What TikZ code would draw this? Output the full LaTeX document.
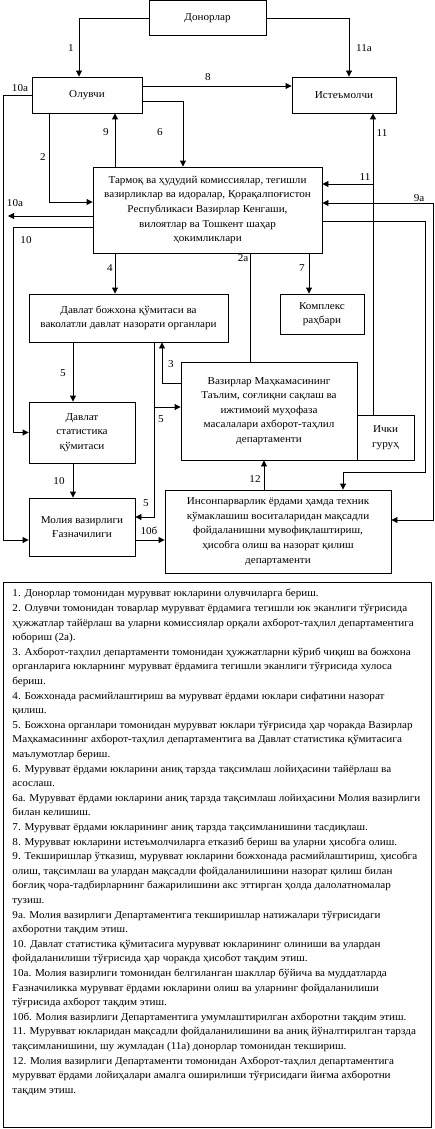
\documentclass[tikz,border=0pt]{standalone}
\usepackage{fontspec}
\setmainfont{Liberation Serif}[FakeStretch=1.06]
\usetikzlibrary{arrows.meta}

\begin{document}
\begin{tikzpicture}[
    x=1pt, y=-1pt,
    line width=0.9pt,
    >={Triangle[length=6pt,width=6pt]},
    font=\fontsize{10.5}{14.6}\selectfont,
    box/.style={draw, rectangle, inner sep=0pt, align=center},
    lbl/.style={inner sep=0pt}
]
    \useasboundingbox (0,0) rectangle (435,1129);

    % ================= boxes =================
    \node[box, minimum width=117, minimum height=35] (don) at (207.5,18) {Донорлар};
    \node[box, minimum width=110, minimum height=36] (olu) at (87,95) {Олувчи};
    \node[box, minimum width=104, minimum height=36] (ist) at (344,95) {Истеъмолчи};
    \node[box, minimum width=229, minimum height=86] (kom) at (207.5,210)
        {Тармоқ ва ҳудудий комиссиялар, тегишли\\вазирликлар ва идоралар, Қорақалпоғистон\\Республикаси Вазирлар Кенгаши,\\вилоятлар ва Тошкент шаҳар\\ҳокимликлари};
    \node[box, minimum width=199, minimum height=48] (boj) at (128.5,318)
        {Давлат божхона қўмитаси ва\\ваколатли давлат назорати органлари};
    \node[box, minimum width=84, minimum height=40] (rah) at (322,314) {Комплекс\\раҳбари};
    \node[box, minimum width=176, minimum height=98] (dep) at (269,411)
        {Вазирлар Маҳкамасининг\\Таълим, соғлиқни сақлаш ва\\ижтимоий муҳофаза\\масалалари ахборот-таҳлил\\департаменти};
    \node[box, minimum width=57, minimum height=45] (ich) at (385.5,437.5) {Ички\\гуруҳ};
    \node[box, minimum width=106, minimum height=61] (sta) at (82,432.5)
        {Давлат\\статистика\\қўмитаси};
    \node[box, minimum width=106, minimum height=58] (mol) at (82,527)
        {Молия вазирлиги\\Ғазначилиги};
    \node[box, minimum width=226, minimum height=83] (ins) at (278,531.5)
        {Инсонпарварлик ёрдами ҳамда техник\\кўмаклашиш воситаларидан мақсадли\\фойдаланишни мувофиқлаштириш,\\ҳисобга олиш ва назорат қилиш\\департаменти};

    % ================= connectors =================
    \draw[->] (don.west) -| ([xshift=-8pt]olu.north);
    \draw[->] (don.east) -| ([xshift=5pt]ist.north);
    \draw[->] ([yshift=9pt]olu.east) -- ([yshift=9pt]ist.west);
    \draw[->] (olu.west) -- (3,95) |- ([yshift=-13pt]mol.west);
    \draw[->] ([xshift=-38pt]olu.south) |- ([yshift=8pt]kom.west);
    \draw[->] ([xshift=-92.5pt]kom.north) -- ([xshift=-92.5pt]kom.north |- olu.south);
    \draw[->] ([yshift=-6pt]olu.east) -| ([xshift=-24.5pt]kom.north);

    \coordinate (j11) at (373,184);
    \draw[->] ([xshift=-12.5pt]ich.north) -- ([xshift=-12.5pt]ich.north |- ist.south);
    \draw[->] (j11) -- (kom.east |- j11);
    \draw[<->] ([yshift=7pt]kom.east) -- (433,203) |- ([yshift=11.5pt]ins.east);
    \draw[->] ([yshift=-11pt]kom.east) -- (425,221) -- (425,472) -| ([xshift=65pt]ins.north);

    \coordinate (e10a) at (8,216);
    \draw[->] ([yshift=-6pt]kom.west) -- (e10a);
    \draw[->] ([yshift=-17pt]kom.west) -- (13,227) |- (sta.west);

    \draw[->] ([xshift=-92.5pt]kom.south) -- ([xshift=-92.5pt]kom.south |- boj.north);
    \draw ([xshift=42.5pt]kom.south) -- ([xshift=42.5pt]kom.south |- dep.north);
    \draw[->] ([xshift=101.5pt]kom.south) -- ([xshift=101.5pt]kom.south |- rah.north);

    \draw[->] ([xshift=-55.5pt]boj.south) -- ([xshift=-55.5pt]boj.south |- sta.north);
    \draw[->] ([yshift=28pt]dep.west) -| ([xshift=33.5pt]boj.south);
    \coordinate (j5) at (154,407);
    \draw[->] ([xshift=25.5pt]boj.south) |- ([yshift=10pt]mol.east);
    \draw[->] (j5) -- (dep.west |- j5);
    \draw[->] ([xshift=-9pt]sta.south) -- ([xshift=-9pt]sta.south |- mol.north);
    \draw[->] ([yshift=-13pt]mol.east) -- ([yshift=-13pt]mol.east -| ins.west);
    \draw[->] ([xshift=-14pt]ins.north) -- ([xshift=-14pt]ins.north |- dep.south);

    % ================= connector labels =================
    \node[lbl] (l1) at (71,48) {1};
    \node[lbl] (l11a) at (364,48) {11а};
    \node[lbl] (l8) at (208,77) {8};
    \node[lbl] (l10a) at (20,88) {10а};
    \node[lbl] (l9) at (106,132) {9};
    \node[lbl] (l6) at (160,132) {6};
    \node[lbl] (l11) at (382,133) {11};
    \node[lbl] (l2) at (43,157) {2};
    \node[lbl] (l11b) at (365,177) {11};
    \node[lbl] (l9a) at (419,198) {9а};
    \node[lbl] (l10ab) at (15,203) {10а};
    \node[lbl] (l10) at (26,240) {10};
    \node[lbl] (l2a) at (243,258) {2а};
    \node[lbl] (l4) at (110,268) {4};
    \node[lbl] (l7) at (302,268) {7};
    \node[lbl] (l3) at (171,364) {3};
    \node[lbl] (l5a) at (63,373) {5};
    \node[lbl] (l5b) at (161,419) {5};
    \node[lbl] (l10b) at (59,481) {10};
    \node[lbl] (l12) at (255,479) {12};
    \node[lbl] (l5c) at (146,503) {5};
    \node[lbl] (l10v) at (149,531) {10б};

    % ================= legend =================
    \node[box, minimum width=428, minimum height=545] (leg) at (217,854.5) {};
    \node[anchor=north west, inner sep=0pt, align=left] (legtxt) at (12,589)
        {1. Донорлар томонидан мурувват юкларини олувчиларга бериш.\\
         2. Олувчи томонидан товарлар мурувват ёрдамига тегишли юк эканлиги тўғрисида\\
         ҳужжатлар тайёрлаш ва уларни комиссиялар орқали ахборот-таҳлил департаментига\\
         юбориш (2а).\\
         3. Ахборот-таҳлил департаменти томонидан ҳужжатларни кўриб чиқиш ва божхона\\
         органларига юкларнинг мурувват ёрдамига тегишли эканлиги тўғрисида хулоса\\
         бериш.\\
         4. Божхонада расмийлаштириш ва мурувват ёрдами юклари сифатини назорат\\
         қилиш.\\
         5. Божхона органлари томонидан мурувват юклари тўғрисида ҳар чоракда Вазирлар\\
         Маҳкамасининг ахборот-таҳлил департаментига ва Давлат статистика қўмитасига\\
         маълумотлар бериш.\\
         6. Мурувват ёрдами юкларини аниқ тарзда тақсимлаш лойиҳасини тайёрлаш ва\\
         асослаш.\\
         6а. Мурувват ёрдами юкларини аниқ тарзда тақсимлаш лойиҳасини Молия вазирлиги\\
         билан келишиш.\\
         7. Мурувват ёрдами юкларининг аниқ тарзда тақсимланишини тасдиқлаш.\\
         8. Мурувват юкларини истеъмолчиларга етказиб бериш ва уларни ҳисобга олиш.\\
         9. Текширишлар ўтказиш, мурувват юкларини божхонада расмийлаштириш, ҳисобга\\
         олиш, тақсимлаш ва улардан мақсадли фойдаланилишини назорат қилиш билан\\
         боғлиқ чора-тадбирларнинг бажарилишини акс эттирган ҳолда далолатномалар\\
         тузиш.\\
         9а. Молия вазирлиги Департаментига текширишлар натижалари тўғрисидаги\\
         ахборотни тақдим этиш.\\
         10. Давлат статистика қўмитасига мурувват юкларининг олиниши ва улардан\\
         фойдаланилиши тўғрисида ҳар чоракда ҳисобот тақдим этиш.\\
         10а. Молия вазирлиги томонидан белгиланган шакллар бўйича ва муддатларда\\
         Ғазначиликка мурувват ёрдами юкларини олиш ва уларнинг фойдаланилиши\\
         тўғрисида ахборот тақдим этиш.\\
         10б. Молия вазирлиги Департаментига умумлаштирилган ахборотни тақдим этиш.\\
         11. Мурувват юкларидан мақсадли фойдаланилишини ва аниқ йўналтирилган тарзда\\
         тақсимланишини, шу жумладан (11а) донорлар томонидан текшириш.\\
         12. Молия вазирлиги Департаменти томонидан Ахборот-таҳлил департаментига\\
         мурувват ёрдами лойиҳалари амалга оширилиши тўғрисидаги йиғма ахборотни\\
         тақдим этиш.};

\end{tikzpicture}
\end{document}
